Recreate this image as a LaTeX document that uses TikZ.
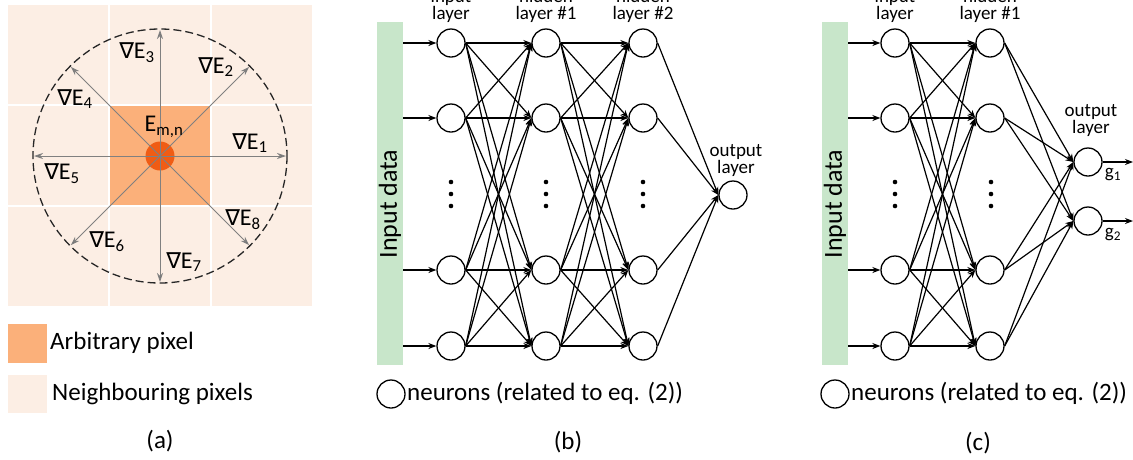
\documentclass[tikz,border=0pt]{standalone}
\usepackage{fontspec}
\setmainfont{Carlito}
\newfontfamily\djv{DejaVu Sans}
\usetikzlibrary{arrows.meta}
\definecolor{nbr}{RGB}{252,238,228}
\definecolor{arb}{RGB}{251,176,122}
\definecolor{dotc}{RGB}{240,92,20}
\definecolor{grn}{RGB}{200,230,202}
\newcommand{\nab}{{\fontsize{22}{22}\djv ∇}}
\tikzset{
  neuron/.style={circle,draw=black,line width=1.3pt,minimum size=28pt,inner sep=0pt},
  conn/.style={line width=1.2pt,-{Stealth[length=8pt,width=6pt]}},
  grad/.style={draw=gray,line width=1pt,-{Stealth[length=9pt,width=6pt,fill=black!70]}},
  lbl/.style={font=\fontsize{24}{24}\selectfont,inner sep=0pt},
  small/.style={font=\fontsize{19}{17}\selectfont,align=center,inner sep=0pt},
  big/.style={font=\fontsize{25}{25}\selectfont,inner sep=0pt},
  dotsty/.style={fill=black},
}
\begin{document}
\begin{tikzpicture}[x=1pt,y=-1pt]
\useasboundingbox (0,0) rectangle (1133,459);
\fill[white] (0,0) rectangle (1133,459);

% ---------------- panel (a)
\foreach \x in {8,110,212} \foreach \y in {5,106,207} \fill[nbr] (\x,\y) rectangle ++(100,99);
\fill[arb] (110,106) rectangle (210,205);
\node[circle,fill=dotc,minimum size=29pt,inner sep=0pt] (cdot) at (160,156) {};
\coordinate (o) at (160,156);
\draw[black!85,line width=1.3pt,dash pattern=on 8pt off 4pt] (o) circle (127);
\foreach \a [count=\i] in {0,45,90,135,180,225,270,315}
  \path (o) ++(\a:126) coordinate (p\i);
\foreach \i in {1,...,8} \draw[grad] (o) -- (p\i);
\node[lbl] (e3) at (137,53) {\nab E\textsubscript{3}};
\node[lbl] (e2) at (216,67) {\nab E\textsubscript{2}};
\node[lbl] (e4) at (75,99) {\nab E\textsubscript{4}};
\node[lbl] (emn) at (164,127) {E\textsubscript{m,n}};
\node[lbl] (e1) at (250,143) {\nab E\textsubscript{1}};
\node[lbl] (e5) at (62,174) {\nab E\textsubscript{5}};
\node[lbl] (e8) at (243,220) {\nab E\textsubscript{8}};
\node[lbl] (e6) at (107,242) {\nab E\textsubscript{6}};
\node[lbl] (e7) at (184,262) {\nab E\textsubscript{7}};

\fill[arb] (8,324) rectangle (47,363);
\node[big,anchor=west] (la1) at (50,343) {Arbitrary pixel};
\fill[nbr] (8,375) rectangle (47,413);
\node[big,anchor=west] (la2) at (52,394) {Neighbouring pixels};
\node[big] (capa) at (160,441) {(a)};

% ---------------- panel (b)
\fill[grn] (377,22) rectangle (403,365);
\node[big,rotate=90] (bdata) at (390,204) {\fontsize{26}{26}\selectfont Input data};
\foreach \r/\y in {1/43,2/118,3/270,4/346} {
  \node[neuron] (bi\r) at (451,\y) {};
  \node[neuron] (bh\r) at (546,\y) {};
  \node[neuron] (bk\r) at (643,\y) {};
  \coordinate (bs\r) at (403,\y);
  \draw[conn] (bs\r) -- (bi\r);
}
\node[neuron] (bo) at (733,195) {};
\foreach \i in {1,...,4} {
  \foreach \j in {1,...,4} {
    \draw[conn] (bi\i.east) -- (bh\j.west);
    \draw[conn] (bh\i.east) -- (bk\j.west);
  }
  \draw[conn] (bk\i.east) -- (bo.west);
}
\foreach \x in {451,546,643} \foreach \y in {182,194,206} \fill[dotsty] (\x,\y) circle (2.3);
\node[small,anchor=south] (bt1) at (451,23) {input\\layer};
\node[small,anchor=south] (bt2) at (546,23) {hidden\\layer \#1};
\node[small,anchor=south] (bt3) at (643,23) {hidden\\layer \#2};
\node[small,anchor=south] (bt4) at (736,177) {output\\layer};
\node[neuron] (bl) at (391,394) {};
\node[big,anchor=west] (blt) at (407,393) {neurons (related to eq. (2))};
\node[big] (capb) at (568,442) {(b)};

% ---------------- panel (c)
\fill[grn] (822,22) rectangle (848,365);
\node[big,rotate=90] (cdata) at (835,204) {\fontsize{26}{26}\selectfont Input data};
\foreach \r/\y in {1/43,2/118,3/270,4/346} {
  \node[neuron] (ci\r) at (895,\y) {};
  \node[neuron] (ch\r) at (990,\y) {};
  \coordinate (cs\r) at (848,\y);
  \draw[conn] (cs\r) -- (ci\r);
}
\node[neuron] (co1) at (1088,162) {};
\node[neuron] (co2) at (1088,221) {};
\foreach \i in {1,...,4} {
  \foreach \j in {1,...,4} \draw[conn] (ci\i.east) -- (ch\j.west);
  \draw[conn] (ch\i.east) -- (co1.west);
  \draw[conn] (ch\i.east) -- (co2.west);
}
\foreach \x in {895,991} \foreach \y in {182,194,206} \fill[dotsty] (\x,\y) circle (2.3);
\coordinate (g1e) at (1133,162);
\coordinate (g2e) at (1133,221);
\draw[conn] (co1.east) -- (g1e);
\draw[conn] (co2.east) -- (g2e);
\node[small] (g1) at (1113,175) {g\textsubscript{1}};
\node[small] (g2) at (1113,235) {g\textsubscript{2}};
\node[small,anchor=south] (ct1) at (895,23) {input\\layer};
\node[small,anchor=south] (ct2) at (990,23) {hidden\\layer \#1};
\node[small,anchor=south] (ct3) at (1091,137) {output\\layer};
\node[neuron] (cl) at (835,394) {};
\node[big,anchor=west] (clt) at (851,393) {neurons (related to eq. (2))};
\node[big] (capc) at (978,443) {(c)};
\end{tikzpicture}
\end{document}
